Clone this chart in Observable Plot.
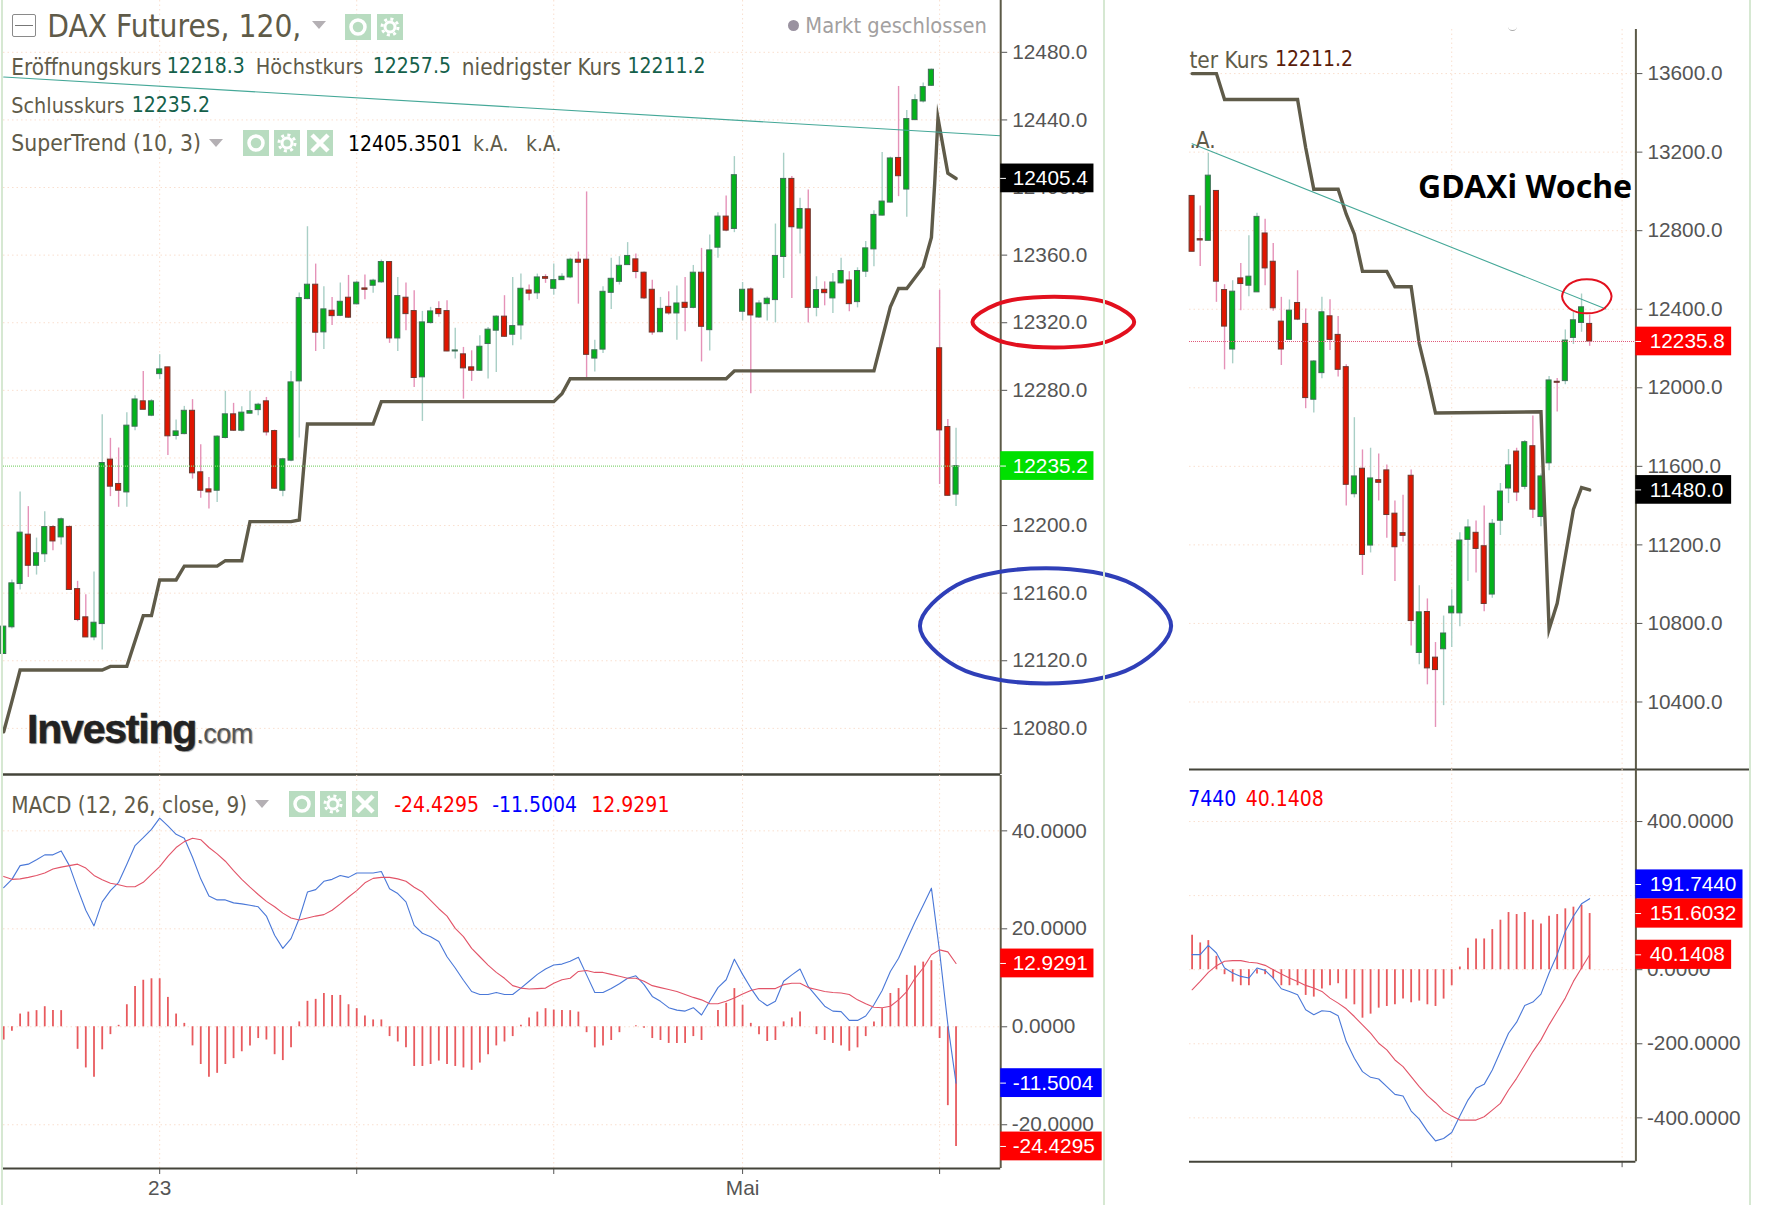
<!DOCTYPE html>
<html lang="de">
<head>
<meta charset="utf-8">
<script src="https://cdn.jsdelivr.net/npm/d3@7"></script>
<script src="https://cdn.jsdelivr.net/npm/@observablehq/plot@0.6"></script>
<style>
html,body{margin:0;padding:0;background:#fff;width:1766px;height:1205px;overflow:hidden}
#page{position:relative;width:1766px;height:1205px;overflow:hidden}
.panel{position:absolute}
.panel svg{display:block;overflow:visible;background:transparent}
.t{position:absolute;white-space:pre;transform:translateY(-50%);font-family:"DejaVu Sans Condensed","DejaVu Sans",sans-serif;line-height:1.2}
.band{position:absolute;width:2px;background:#d6e8d2}
.tri{position:absolute;width:0;height:0;border-left:7px solid transparent;border-right:7px solid transparent;border-top:8px solid #b4b0b4}
.ico{position:absolute}
</style>
</head>
<body>
<div id="page"></div>
<script>
// ---------- daily (120 min) chart ----------
const dayOpen = [12124,12139.8,12165.4,12194.6,12176.2,12183,12199.1,12193,12199.1,12162.4,
12145.7,12133.8,12141.7,12239,12224.6,12219.6,12258.5,12273.5,12265,12289.6,
12293.6,12253,12254.1,12267.9,12231.5,12221.4,12220.6,12251.8,12265.8,12256.1,
12266.2,12268.3,12273.5,12255.9,12220.6,12238.4,12285.3,12334,12342.5,12314.3,
12327.1,12324.1,12334.8,12330.9,12340.3,12341.9,12343.9,12355.9,12310.7,12334.8,
12326.9,12287.7,12319.8,12328.1,12326.9,12303,12301.3,12293.6,12291.6,12307.4,
12315.3,12323.6,12312.9,12318.4,12339.1,12337.4,12347,12340.1,12345.2,12346.8,
12357.3,12357.3,12298.8,12304.1,12337.7,12344.2,12354.1,12357.5,12349.6,12339.5,
12314.4,12329.4,12325.5,12331.8,12328.8,12349.6,12315.6,12364.4,12382.8,12375.5,
12326.5,12339.7,12323.1,12331,12333.4,12358.9,12405.1,12375.7,12387.1,12328.8,
12339.5,12334.4,12343.3,12345,12332.2,12350.2,12363.4,12383.4,12391.1,12417.5,
12398.8,12439.9,12450.9,12460.2,12304.9,12258.3,12218.3];
const dayClose = [12140.2,12165.8,12195.8,12176.2,12183.6,12199.1,12190.6,12203.7,12161.9,12144.1,
12133.8,12142.5,12237,12223,12220.6,12259.1,12274.6,12268.5,12273.5,12292.4,
12252.8,12255.7,12267.9,12230.9,12220.6,12219.6,12252.6,12265.8,12256.1,12266.8,
12267.7,12271.5,12255.1,12221.8,12239.2,12284.7,12334.6,12342.5,12314.1,12327.9,
12323.9,12332.4,12323,12343.7,12339.5,12344.9,12355.9,12310.7,12335.8,12325.1,
12287.3,12320.2,12326.7,12325.1,12303,12303.6,12293,12291.6,12305.8,12315.9,
12323.6,12311.7,12318,12340.1,12337.2,12346.8,12346,12345.2,12347.2,12357.3,
12355.5,12301,12303.7,12338.3,12346,12353.7,12359.5,12350,12334.4,12314.2,
12328.2,12325.5,12331.4,12328.8,12349.6,12317.6,12362.8,12382.8,12374.5,12407.3,
12339.5,12324.3,12331.4,12334.2,12359.5,12405.1,12376.5,12387.3,12328.8,12339.3,
12337.5,12343.8,12350.6,12331,12350.6,12364,12383.8,12391.7,12417.2,12406.7,
12440.5,12451.7,12459.4,12469.7,12256.3,12217.6,12235.2];
const dayHigh = [12140.2,12167.8,12219.8,12211.2,12192.6,12208.2,12199.9,12204.4,12199.9,12167,
12159.1,12172.5,12265.6,12251.6,12245.9,12266.8,12276.8,12291.2,12274.5,12301.1,
12293.6,12262.4,12270.5,12274.5,12247.8,12228.5,12253.2,12279.4,12272.3,12270.3,
12279.4,12272.3,12275.8,12256.5,12239.7,12291.2,12337.6,12376.8,12354.7,12341.3,
12335,12343.5,12348,12344.5,12348.2,12345.8,12357.1,12355.9,12346.8,12343.5,
12338.9,12326.7,12329.1,12332.4,12333,12316.8,12305.4,12303.4,12312.3,12317.2,
12324.1,12336,12346.8,12348.8,12342.3,12348.8,12348.4,12354.7,12349,12358.1,
12361.8,12397.4,12309.7,12341.3,12358.1,12359.1,12367.4,12360.6,12350,12345.2,
12335,12338.3,12341.7,12346.8,12353.9,12364,12371.9,12385.1,12395,12418.3,
12343.8,12340.5,12333,12335.3,12378.4,12420.3,12406.5,12393.6,12398.6,12347.2,
12344.2,12349.2,12358.1,12350.2,12352.5,12368,12386.3,12420.7,12418,12459.8,
12445.6,12454.9,12461.8,12470.1,12339.3,12262.8,12257.5];
const dayLow = [12124,12138.8,12161.9,12169.3,12170.7,12178.2,12185.1,12188.5,12161.9,12143.1,
12133.8,12131.9,12126.4,12217.1,12210.8,12210.8,12256.1,12268.5,12264.4,12286.5,
12241.5,12250.6,12253.7,12227.5,12216.1,12209.8,12213.7,12251.2,12255.7,12255.3,
12266,12265,12253,12221.4,12217.1,12237.8,12251.8,12333.6,12303,12304.2,
12318.4,12323.6,12322.6,12330.5,12333.6,12337.4,12343.3,12307.8,12303,12315.3,
12281.7,12261.6,12319.2,12323.2,12302.8,12298.5,12274.8,12285.3,12291.2,12286.7,
12290.6,12311.3,12306.4,12309.8,12333,12333.8,12343.3,12336.3,12345,12346,
12331,12285.9,12290.9,12301.8,12327.8,12342.3,12354,12346,12333.8,12312.6,
12314,12324.5,12309.7,12314.6,12328.2,12296.8,12303.3,12358.1,12373.9,12373.3,
12321.1,12278,12322.5,12321.1,12319.9,12346.2,12334.4,12360.6,12319.9,12323.5,
12330,12325.5,12342.9,12326.5,12328.8,12346.8,12353.1,12383.2,12390.7,12394.6,
12382.4,12439.5,12450,12459.8,12224.3,12217.4,12211.2];
const daySuperBar = [0,1,2,12,13,15,17,18,19,21,22,26,27,29,30,35,36,37,45,46,67,68,69,88,89,106,108,109,110,112,113,113.4,113.8,115,116];
const daySuperVal = [12078,12096,12114.5,12114.5,12116.7,12116.7,12146.7,12146.7,12167.8,12167.8,12176,12176,12179.2,12179.2,12202.3,12202.3,12203.3,12260.1,12260.1,12273.3,12273.3,12278,12286.9,12286.9,12291.5,12291.5,12329.4,12340.3,12340.3,12353.1,12370.5,12402.5,12441,12408.5,12405.35];
const dayTrendBar = [0,121.4];
const dayTrendVal = [12465.4,12430.6];
const dayPriceTicks = [12080,12120,12160,12200,12240,12280,12320,12360,12400,12440,12480];
const dayPriceHidden = [12240];
const dayBarTicks = [19,43,67,90,114];
const dayBarLabels = ["23","","","Mai",""];
const dayLastClose = 12235.2;
const dayTagValues = [12405.4,12235.2];
const dayTagColors = ["#000000","#00e000"];
const redEllipseBar = [137.7,134.9,128,121,118,121,128,134.9];
const redEllipseVal = [12320.4,12331,12335.4,12331,12320.4,12309.8,12305.4,12309.8];
const blueEllipseBar = [142.2,137.7,127,116.1,111.6,116.1,127,137.7];
const blueEllipseVal = [12140.6,12164.8,12174.8,12164.8,12140.6,12116.4,12106.5,12116.4];

const dayMacd = [28.4,30.1,32.9,33.2,34.1,35.1,35.1,35.9,32.9,28.2,
23.8,20.6,25.5,27.8,29.5,33.2,37,38.6,40.3,42.6,
41,39.3,38.5,34.6,30.2,26.7,25.9,25.9,25.3,25.1,
24.8,24.5,22.6,18.7,16,18,22.1,27.5,28,29.7,
30.1,30.9,30.5,31.4,31.4,31.4,31.7,28.2,27.2,25.5,
20.7,19.1,18.4,17.4,14.3,12,9.5,7.2,6.6,6.6,
7,6.6,6.6,7.9,9.3,10.7,11.8,12.6,12.8,13.4,
14.2,10.6,7,7,7.8,8.8,9.9,10.4,8.6,6.2,
5.2,3.9,3.4,3.2,3.9,2.4,5.2,8,9.6,13.8,
10.7,7.9,5.5,4.3,5.2,9.3,10.6,11.8,8.2,6.2,
4.2,3.2,3.1,1.3,1.3,2.2,4.5,7.4,11.3,14,
17.7,21.4,24.8,28.3,15.3,0.5,-11.5004];
const daySignal = [30.7,30.1,30.2,30.5,30.9,31.4,32.2,32.6,32.9,33.2,
32.4,30.9,30,29.3,29,28.6,28.6,29.5,31.1,32.7,
34.8,36.6,37.8,38.5,38.2,36.6,35.3,33.8,31.9,30.1,
28.5,27,25.6,24.5,23.2,22.2,21.8,22.2,22.6,22.9,
23.8,25.1,26.5,27.8,29.4,30.3,30.5,30.5,30.2,29.7,
28.5,27.5,25.8,24.1,22.6,20.1,18.4,16,14.3,12.6,
11.1,9.9,8.4,7.9,7.7,7.8,7.9,8.9,9.6,9.9,
11.3,11.5,11.1,11.1,10.7,10.3,9.9,9.9,9.3,8.4,
8,7.6,7.2,6.6,6,5.5,4.7,4.7,5.2,5.9,
6.7,7.4,7.8,7.8,7.8,8.6,8.9,8.9,8,7.6,
7.2,7,6.9,6.6,5.5,4.7,4,3.9,4.2,5.5,
7.2,9.9,12,14.7,15.7,15.3,12.9291];
const dayHist = [-2.7,-0.9,2.6,3,3.3,4.1,3.3,3.3,0,-4.6,
-8.4,-10.3,-4.7,-1.6,0.3,4.5,8.2,9.5,9.8,9.8,
6,2.6,0.7,-3.9,-7.7,-10.3,-9.5,-7.7,-6.5,-5.1,
-3.9,-2.4,-2.7,-5.7,-6.9,-4.3,1,5.2,5.6,6.8,
6.4,6.4,4.5,3.7,2.2,1.4,1.4,-2,-3.1,-4.3,
-8.1,-8.1,-7.7,-7,-7.7,-8.1,-8.4,-8.9,-7.4,-5.7,
-3.9,-3.1,-2,0.3,1.8,3,3.7,3.4,3.3,3.3,
3,-1.2,-4.3,-3.9,-2.8,-1.2,0,0.2,-0.3,-2.4,
-2.8,-3.4,-3.4,-3.4,-2,-2.8,0,3.3,4.8,7.8,
4.4,0.7,-1.6,-3,-2.8,1,1.8,3,0,-1.6,
-2.8,-3.4,-3.9,-5,-4.3,-2,1,3.7,6.8,7.8,
10.5,12.4,13.2,13.5,-2.4,-16.1,-24.4295];
const dayMacdTicks = [-20,0,20,40];
const dayMacdTagValues = [12.9291,-11.5004,-24.4295];
const dayMacdTagColors = ["#ff0000","#0000ff","#ff0000"];
const dayMacdTagEnds = [132.8,133.8,133.8];

// ---------- weekly chart ----------
const weekOpen = [12977,12756.9,12748.4,13002.4,12497.8,12194.8,12557.1,12519.8,12486,12785.8,
12641.8,12337,12243.9,12431.8,12325.2,11939.2,12074.6,12364.1,12269.3,12105.1,
11458,11587.9,11196.6,11529.8,11579.4,11358.9,11259.8,11552,10649.7,10858.2,
10625.8,10668.5,10851.3,10851.3,11225.6,11261.5,11193.1,10947.1,11323,11487.1,
11675.1,11495.6,11702.4,11341.8,11615.3,12030.6,12034,12254.1,12330.3,12325.2];
const weekClose = [12692.6,12750.1,13080.2,12540.2,12311.6,12489.4,12528.3,12565.8,12870.3,12607.9,
12404.8,12194.8,12392.9,12347.2,11947.6,12133.9,12384.4,12243.9,12091.5,11505.9,
11548.6,11148.7,11538.4,11516.1,11352.1,11188,11246.1,10812.1,10856.5,10571.1,
10562.5,10748.8,10885.5,11222.2,11288.8,11179.5,10899.2,11307.6,11471.7,11605,
11466.6,11722.9,11379.4,11548.6,12037.4,12025.5,12240.5,12343.8,12409.8,12235.8];
const weekHigh = [12977,12926.2,13193.7,13002.4,12524.9,12545.3,12633.3,12773.8,12888.9,12858.5,
12734.9,12460.6,12447.1,12596,12401.4,12138.9,12460.6,12448.8,12362.4,12116.9,
11847.7,11683.6,11692.2,11663.1,11606.7,11423.9,11452.9,11581.1,10991.5,10924.8,
10702.7,10837.7,10971,11261.5,11328.1,11321.3,11398.2,11329.9,11512.7,11685.3,
11692.2,11731.5,11856.2,11560.6,12057.7,12047.5,12294.7,12384.4,12477.5,12370.9];
const weekLow = [12692.6,12618.1,12748.4,12435.2,12091.5,12122,12392.9,12464,12486,12519.8,
12389.5,12113.5,12240.5,12342.1,11893.5,11871.4,12045.8,12189.7,12054.3,11398.2,
11439.2,11044.5,11159,11423.9,11234.2,11013.7,11213.6,10685.6,10589.9,10487.3,
10270.3,10381.4,10677,10783,11013.7,11056.4,10859.9,10928.2,11247.8,11410.2,
11420.4,11480.3,11335,11292.3,11577.7,11876.5,12015.4,12220.2,12282.8,12211.2];
const weekSuperBar = [0,3,4,13,14,15,18,19,20,21,24,25,27,28,29,30,43,44,45,46,47,48,49];
const weekSuperVal = [13600,13600,13467.9,13467.9,13222,13010.8,13010.8,12884,12782.3,12592.7,12592.7,12514.8,12514.8,12224,12054,11871.4,11878,10770,10902.6,11141.9,11381,11492,11480];
const weekTrendBar = [0,51];
const weekTrendVal = [13242.8,12401.4];
const weekPriceTicks = [10400,10800,11200,11600,12000,12400,12800,13200,13600];
const weekBarTicks = [32,53];
const weekLast = 12235.8;
const weekTagValues = [12235.8,11480];
const weekTagColors = ["#ff0000","#000000"];
const weekEllipseBar = [51.7,50.8,48.65,46.5,45.6,46.5,48.65,50.8];
const weekEllipseVal = [12466,12528,12553,12528,12466,12404,12379,12404];

const weekMacd = [40.6,40.6,65.9,45.1,4.5,-9,-18.1,-22.6,4.5,-1.8,
-22.6,-51.4,-58.7,-67.7,-108.3,-121.8,-111,-112.8,-124.5,-194,
-239.2,-275.3,-290.6,-295.1,-315.9,-336.6,-341.1,-381.8,-403.4,-435.9,
-462.1,-455.8,-439.5,-395.3,-352,-320.4,-309.6,-270.8,-221.1,-171.5,
-141.7,-96.6,-87.5,-65.9,-9,40.6,103.8,144.4,177.8,191.744];
const weekSignal = [-54.2,-31.6,-7.2,10.8,22.6,24.4,24.4,19.9,18,11.7,
0,-11.7,-22.6,-31.6,-42.4,-49.6,-58.7,-76.7,-90.3,-105.6,
-126.4,-148.9,-171.5,-198.6,-216.6,-243.7,-261.7,-288.8,-315.9,-340.2,
-359.2,-381.8,-395.3,-406.1,-406.1,-406.1,-397.1,-379,-361,-324.9,
-293.3,-257.2,-221.1,-189.5,-148.9,-112.8,-76.7,-31.6,4.5,40.1408];
const weekHist = [93,72.2,78.5,36.1,-13.5,-33.4,-43.3,-43.3,-11.7,-13.5,
-24.4,-43.3,-43.3,-43.3,-69.5,-74,-52.3,-43.3,-37.9,-79.4,
-94.8,-130.9,-120,-103.8,-99.3,-94.8,-79.4,-89.3,-84.8,-94.8,
-99.3,-79.4,-43.3,7.2,57.8,83,83,108.3,133.6,154.3,
148.9,154.3,133.6,123.6,144.4,148.9,164.3,168.8,174.2,151.6032];
const weekMacdTicks = [-400,-200,0,200,400];
const weekMacdHidden = [200];
const weekMacdTagPos = [230,151.6032,40.1408];
const weekMacdTagText = ["191.7440","151.6032","40.1408"];
const weekMacdTagColors = ["#0000ff","#ff0000","#ff0000"];
const weekMacdTagEnds = [67.9,67.9,66.5];

// ---------- styling constants ----------
const GRID = "#f9dfcf", AXIS = "#5c5a48", TICKTXT = "#555555";
const SUPER = "#5f5b49", TEAL = "#45a898", HIST = "#e85a5e";
const page = document.getElementById("page");

const zip = (a, b) => a.map((x, k) => ({a: x, b: b[k]}));
const toCandles = (o, h, l, c) => o.map((v, i) => ({i, open: v, high: h[i], low: l[i], close: c[i], up: c[i] >= v}));

function candleMarks(rows) {
  return [
    Plot.ruleX(rows, {x: "i", y1: "low", y2: "high", strokeWidth: 1.4, stroke: d => d.up ? "#a9cfc6" : "#e592b8"}),
    Plot.rect(rows, {x1: d => d.i - 0.31, x2: d => d.i + 0.31, y1: "open", y2: "close",
      fill: d => d.up ? "#03b31b" : "#e01500", stroke: d => d.up ? "#3f6e56" : "#6b3a30", strokeWidth: 1})
  ];
}
function tagMarks(rows, x1, textX, half) {
  return [
    Plot.rect(rows, {x1: () => x1, x2: "end", y1: d => d.pos - half, y2: d => d.pos + half, fill: "color"}),
    Plot.ruleY(rows, {y: "pos", x1: () => x1, x2: () => x1 + 0.7, stroke: "#ffffff", strokeWidth: 1}),
    Plot.text(rows, {x: () => textX, y: "pos", text: "label", fill: "#ffffff", textAnchor: "start"})
  ];
}
function mount(left, top, o) {
  const fig = Plot.plot({
    width: o.width, height: o.height, marginLeft: o.ml, marginRight: o.mr, marginTop: 0, marginBottom: o.mb,
    x: {domain: o.xd, range: [o.ml, o.width - o.mr], axis: null},
    y: {domain: o.yd, range: [o.height - o.mb, 0], axis: null},
    color: {type: "identity"},
    style: {fontFamily: '"Liberation Sans",Arial,sans-serif', fontSize: "20.8px", background: "transparent", color: TICKTXT, overflow: "visible"},
    marks: o.marks
  });
  const d = document.createElement("div");
  d.className = "panel"; d.style.left = left + "px"; d.style.top = top + "px";
  d.appendChild(fig); page.appendChild(d);
}
const grids = (yt, xt) => [
  Plot.gridY(yt, {stroke: GRID, strokeOpacity: 1, strokeDasharray: "1.5 3"}),
  Plot.gridX(xt, {stroke: GRID, strokeOpacity: 1, strokeDasharray: "1.5 3"})
];
const ellipse = (bars, vals, color, w) => Plot.line(zip(bars, vals), {x: "a", y: "b", stroke: color, strokeWidth: w, curve: "catmull-rom-closed"});

const dayX = [-0.024, 121.44], weekX = [-0.32, 54.7];

// ---------- panel A : daily candles ----------
{
  const xd = dayX, yd = [12052.7, 12510.66];
  mount(0, 0, {width: 1190, height: 774, ml: 3, mr: 189.8, mb: 0, xd, yd, marks: [
    ...grids(dayPriceTicks, dayBarTicks),
    ...candleMarks(toCandles(dayOpen, dayHigh, dayLow, dayClose)),
    Plot.line(zip(daySuperBar, daySuperVal), {x: "a", y: "b", stroke: SUPER, strokeWidth: 3.4, strokeLinejoin: "miter", strokeMiterlimit: 12}),
    Plot.line(zip(dayTrendBar, dayTrendVal), {x: "a", y: "b", stroke: TEAL, strokeWidth: 1.1}),
    Plot.ruleY([dayLastClose], {stroke: "#86d678", strokeWidth: 1.2, strokeDasharray: "1 1", x1: () => xd[0], x2: () => xd[1]}),
    Plot.axisY(dayPriceTicks, {anchor: "right", tickFormat: d => dayPriceHidden.includes(d) ? "" : d.toFixed(1), tickSize: 6, tickPadding: 5.5, label: null, stroke: TICKTXT, fill: TICKTXT}),
    Plot.ruleX([xd[1]], {stroke: AXIS, strokeWidth: 2}),
    Plot.ruleY([yd[0]], {stroke: "#44443a", strokeWidth: 2.4, x1: () => xd[0], x2: () => xd[1]}),
    ...tagMarks(dayTagValues.map((v, k) => ({pos: v, label: v.toFixed(1), color: dayTagColors[k], end: 132.8})), xd[1], 122.9, 8.5),
    ellipse(redEllipseBar, redEllipseVal, "#e2101e", 4),
    ellipse(blueEllipseBar, blueEllipseVal, "#2f3fb8", 4)
  ]});
}
// ---------- panel B : daily MACD ----------
{
  const xd = dayX, yd = [-28.93, 51.3];
  const hist = dayHist.map((v, i) => ({i, v}));
  const labelOf = new Map(dayBarTicks.map((t, k) => [t, dayBarLabels[k]]));
  mount(0, 775, {width: 1190, height: 430, ml: 3, mr: 189.8, mb: 37, xd, yd, marks: [
    ...grids(dayMacdTicks, dayBarTicks),
    Plot.ruleX(hist, {x: "i", y1: () => 0, y2: "v", stroke: HIST, strokeWidth: 1.8}),
    Plot.line(dayMacd.map((v, i) => ({i, v})), {x: "i", y: "v", stroke: "#4a78d8", strokeWidth: 1.1}),
    Plot.line(daySignal.map((v, i) => ({i, v})), {x: "i", y: "v", stroke: "#e25468", strokeWidth: 1.1}),
    Plot.axisY(dayMacdTicks, {anchor: "right", tickFormat: d => d.toFixed(4), tickSize: 6, tickPadding: 5, label: null, stroke: TICKTXT, fill: TICKTXT}),
    Plot.axisX(dayBarTicks, {anchor: "bottom", tickFormat: d => labelOf.get(d), tickSize: 6, tickPadding: 6, label: null, stroke: TICKTXT, fill: TICKTXT}),
    Plot.ruleX([xd[1]], {stroke: AXIS, strokeWidth: 2}),
    Plot.ruleY([yd[0]], {stroke: "#44443a", strokeWidth: 2, x1: () => xd[0], x2: () => xd[1]}),
    ...tagMarks(dayMacdTagValues.map((v, k) => ({pos: v, label: v.toFixed(4), color: dayMacdTagColors[k], end: dayMacdTagEnds[k]})), xd[1], 122.9, 2.94)
  ]});
}
// ---------- panel C : weekly candles ----------
{
  const xd = weekX, yd = [10056.2, 13824.5];
  mount(1189, 29, {width: 577, height: 740, ml: 0, mr: 130.6, mb: 0, xd, yd, marks: [
    ...grids(weekPriceTicks, weekBarTicks),
    ...candleMarks(toCandles(weekOpen, weekHigh, weekLow, weekClose)),
    Plot.line(zip(weekSuperBar, weekSuperVal), {x: "a", y: "b", stroke: SUPER, strokeWidth: 3.4, strokeLinejoin: "miter", strokeMiterlimit: 12}),
    Plot.line(zip(weekTrendBar, weekTrendVal), {x: "a", y: "b", stroke: TEAL, strokeWidth: 1.1}),
    Plot.ruleY([weekLast], {stroke: "#e05a7a", strokeWidth: 1.2, strokeDasharray: "1 1", x1: () => xd[0], x2: () => xd[1]}),
    Plot.axisY(weekPriceTicks, {anchor: "right", tickFormat: d => d.toFixed(1), tickSize: 6, tickPadding: 5.5, label: null, stroke: TICKTXT, fill: TICKTXT}),
    Plot.ruleX([xd[1]], {stroke: AXIS, strokeWidth: 2}),
    Plot.ruleY([yd[0]], {stroke: "#44443a", strokeWidth: 2.2, x1: () => xd[0], x2: () => 68.7}),
    ...tagMarks(weekTagValues.map((v, k) => ({pos: v, label: v.toFixed(1), color: weekTagColors[k], end: 66.5})), xd[1], 56.4, 73),
    ellipse(weekEllipseBar, weekEllipseVal, "#e2101e", 2)
  ]});
}
// ---------- panel D : weekly MACD ----------
{
  const xd = weekX, yd = [-518.4, 540.5];
  mount(1189, 769, {width: 577, height: 436, ml: 0, mr: 130.6, mb: 43.8, xd, yd, marks: [
    ...grids(weekMacdTicks, weekBarTicks),
    Plot.ruleX(weekHist.map((v, i) => ({i, v})), {x: "i", y1: () => 0, y2: "v", stroke: HIST, strokeWidth: 1.8}),
    Plot.line(weekMacd.map((v, i) => ({i, v})), {x: "i", y: "v", stroke: "#4a78d8", strokeWidth: 1.1}),
    Plot.line(weekSignal.map((v, i) => ({i, v})), {x: "i", y: "v", stroke: "#e25468", strokeWidth: 1.1}),
    Plot.axisY(weekMacdTicks, {anchor: "right", tickFormat: d => weekMacdHidden.includes(d) ? "" : d.toFixed(4), tickSize: 6, tickPadding: 5, label: null, stroke: TICKTXT, fill: TICKTXT}),
    Plot.axisX(weekBarTicks, {anchor: "bottom", tickFormat: () => "", tickSize: 6, label: null, stroke: TICKTXT}),
    Plot.ruleX([xd[1]], {stroke: AXIS, strokeWidth: 2}),
    Plot.ruleY([yd[0]], {stroke: "#44443a", strokeWidth: 2, x1: () => xd[0], x2: () => xd[1]}),
    ...tagMarks(weekMacdTagPos.map((v, k) => ({pos: v, label: weekMacdTagText[k], color: weekMacdTagColors[k], end: weekMacdTagEnds[k]})), xd[1], 56.4, 39.4)
  ]});
}

// ---------- header text (real text over the plots) ----------
const DARK = "#5f5b49", GREENNUM = "#14604a";
const texts = [
  [47.3, 27, "DAX Futures, 120,", DARK, 31.4],
  [11.3, 66.5, "Eröffnungskurs", DARK, 22.3],
  [166.7, 67, "12218.3", GREENNUM, 21],
  [255.7, 66.8, "Höchstkurs", DARK, 21.5],
  [372.8, 67, "12257.5", GREENNUM, 21],
  [461.8, 66.5, "niedrigster Kurs", DARK, 22.4],
  [627.4, 67, "12211.2", GREENNUM, 21],
  [11.3, 105.7, "Schlusskurs", DARK, 21.4],
  [131.8, 105.7, "12235.2", GREENNUM, 21],
  [11.3, 144, "SuperTrend (10, 3)", DARK, 22.7],
  [348, 144.5, "12405.3501", "#000000", 21],
  [473, 144.5, "k.A.", DARK, 21],
  [526, 144.5, "k.A.", DARK, 21],
  [805.3, 25.5, "Markt geschlossen", "#a2a0a0", 21.7],
  [11.3, 805, "MACD (12, 26, close, 9)", DARK, 22.3],
  [394.2, 805.5, "-24.4295", "#ff0000", 21],
  [492.2, 805.5, "-11.5004", "#0000ff", 21],
  [591.3, 805.5, "12.9291", "#ff0000", 21],
  [1189.4, 59.7, "ter Kurs", DARK, 22.5],
  [1275, 60, "12211.2", "#5a1c0a", 21],
  [1189.4, 139.5, ".A.", DARK, 22.5],
  [1188.2, 799.6, "7440", "#0000ff", 21],
  [1245.7, 799.6, "40.1408", "#ff0000", 21]
];
for (const [x, y, s, c, f] of texts) {
  const e = document.createElement("div");
  e.className = "t"; e.textContent = s;
  e.style.cssText = `left:${x}px;top:${y}px;color:${c};font-size:${f}px`;
  page.appendChild(e);
}
function addHTML(html) { const w = document.createElement("div"); w.innerHTML = html; page.appendChild(w.firstElementChild); }
// GDAXi label
addHTML(`<div class="t" style="left:1418px;top:185px;font:700 32px 'Noto Sans',sans-serif;color:#000">GDAXi Woche</div>`);
// logo
addHTML(`<div class="t" style="left:27px;top:730px;color:#222;text-shadow:1px 1px 1px #999;font-family:'Liberation Sans',Arial,sans-serif"><span style="font-weight:700;font-size:41px;letter-spacing:-1.2px;-webkit-text-stroke:.5px #222">Investing</span><span style="font-size:27px;color:#555;letter-spacing:-.5px">.com</span></div>`);
// vertical pale bands
for (const x of [1, 1103, 1749]) addHTML(`<div class="band" style="left:${x}px;top:0;height:1205px"></div>`);
// collapse box
addHTML(`<div class="ico" style="left:12px;top:14px;width:22px;height:21px;border:1.5px solid #8a8a8a;border-radius:2px"><div style="margin:9.5px 2px 0;height:1.5px;background:#777"></div></div>`);
// triangles
for (const [x, y] of [[312, 21], [209, 139], [255, 800]]) addHTML(`<div class="tri" style="left:${x}px;top:${y}px"></div>`);
addHTML(`<div class="ico" style="left:787.5px;top:20px;width:11px;height:11px;border-radius:50%;background:#9a92a0"></div>`);
addHTML(`<div class="ico" style="left:1508px;top:26px;width:9px;height:4px;border-bottom:1.5px solid #aaa;border-radius:0 0 6px 6px"></div>`);
// small icon squares
const GLYPH = {
  eye: `<circle cx="13" cy="13" r="7" fill="none" stroke="#fff" stroke-width="3.5"/>`,
  gear: `<circle cx="13" cy="13" r="5" fill="none" stroke="#fff" stroke-width="3"/><circle cx="13" cy="13" r="8" fill="none" stroke="#fff" stroke-width="3" stroke-dasharray="3 3.3"/>`,
  x: `<path d="M5 5L21 21M21 5L5 21" stroke="#fff" stroke-width="4.5"/>`
};
const icons = [[345,14,"eye"],[377,14,"gear"],[242.7,130,"eye"],[274,130,"gear"],[307,130,"x"],[289,791,"eye"],[320.4,791,"gear"],[352,791,"x"]];
for (const [x, y, g] of icons) addHTML(`<svg class="ico" aria-hidden="true" style="left:${x}px;top:${y}px" width="26" height="26" viewBox="0 0 26 26"><rect width="26" height="26" fill="#b8dcc0"/>${GLYPH[g]}</svg>`);
</script>
</body>
</html>
